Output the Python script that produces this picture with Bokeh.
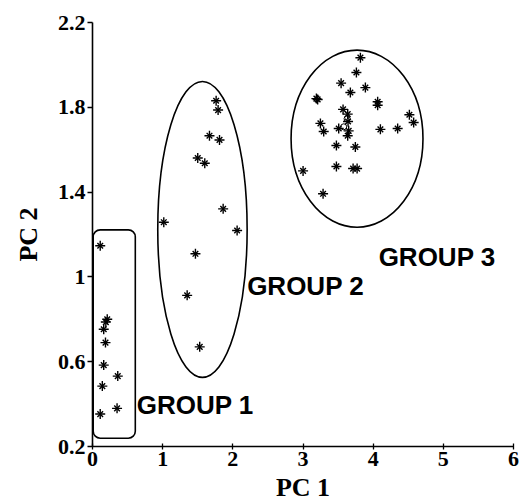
from bokeh.plotting import figure
from bokeh.models import Range1d, FixedTicker, BoxAnnotation, ColumnDataSource
from bokeh.core.properties import value
from bokeh.embed import file_html
from bokeh.resources import INLINE

# ---- data ----
g1_x = [0.11, 0.21, 0.19, 0.16, 0.185, 0.16, 0.36, 0.14, 0.35, 0.11]
g1_y = [1.147, 0.80, 0.787, 0.753, 0.69, 0.584, 0.532, 0.485, 0.38, 0.353]

g2_x = [1.762, 1.79, 1.667, 1.81, 1.50, 1.60, 1.862, 1.016, 2.061, 1.467, 1.349, 1.528]
g2_y = [1.831, 1.787, 1.666, 1.646, 1.561, 1.536, 1.321, 1.258, 1.219, 1.109, 0.913, 0.67]

g3_x = [3.818, 3.761, 3.543, 3.889, 3.675, 3.191, 3.209, 4.064, 4.064, 3.571, 3.637,
        4.516, 4.577, 3.642, 3.248, 3.509, 3.295, 4.103, 4.349, 3.651, 3.637, 3.476,
        3.746, 3.001, 3.476, 3.714, 3.771, 3.286]
g3_y = [2.034, 1.964, 1.914, 1.893, 1.870, 1.841, 1.837, 1.826, 1.810, 1.790, 1.768,
        1.765, 1.728, 1.733, 1.724, 1.700, 1.686, 1.696, 1.700, 1.689, 1.666, 1.620,
        1.613, 1.500, 1.521, 1.511, 1.511, 1.392]

open_x = [3.628, 3.58]
open_y = [1.746, 1.708]

# group outlines
ell_x = [1.567, 3.77]
ell_y = [1.224, 1.652]
ell_w = [1.274, 1.88]
ell_h = [1.396, 0.835]
box1 = dict(left=0.01, right=0.61, bottom=0.239, top=1.222)

lab_x = [0.63, 2.204, 4.078]
lab_y = [0.395, 0.955, 1.096]
lab_t = ["GROUP 1", "GROUP 2", "GROUP 3"]

x_ticks = [0, 1, 2, 3, 4, 5, 6]
y_ticks = [0.2, 0.6, 1.0, 1.4, 1.8, 2.2]
y_tick_labels = ["0.2", "0.6", "1", "1.4", "1.8", "2.2"]

# ---- figure ----
p = figure(width=522, height=504, output_backend="svg", toolbar_location=None,
           x_range=Range1d(0, 6), y_range=Range1d(0.2, 2.2),
           min_border_left=92, min_border_right=9, min_border_top=22, min_border_bottom=58)
p.outline_line_color = None
p.grid.visible = False
p.background_fill_color = "white"
p.border_fill_color = "white"

serif = "Liberation Serif"
for ax in (p.xaxis[0], p.yaxis[0]):
    ax.axis_line_color = "black"
    ax.axis_line_width = 1.6
    ax.major_tick_line_color = "black"
    ax.major_tick_line_width = 1.3
    ax.minor_tick_line_color = None
    ax.major_label_text_font = serif
    ax.major_label_text_font_style = "bold"
    ax.major_label_text_font_size = "22px"
    ax.major_label_text_color = "black"
    ax.axis_label_text_font = serif
    ax.axis_label_text_font_style = "bold"
    ax.axis_label_text_font_size = "26px"
    ax.axis_label_text_color = "black"

p.xaxis.ticker = FixedTicker(ticks=x_ticks)
p.xaxis.major_tick_in = 3
p.xaxis.major_tick_out = 3
p.xaxis.major_label_standoff = 2
p.xaxis.axis_label = "PC 1"
p.xaxis.axis_label_standoff = 4

p.yaxis.ticker = FixedTicker(ticks=y_ticks)
p.yaxis.major_label_overrides = {t: s for t, s in zip(y_ticks, y_tick_labels)}
p.yaxis.major_tick_in = 0
p.yaxis.major_tick_out = 5
p.yaxis.major_label_standoff = 2
p.yaxis.axis_label = "PC 2"
p.yaxis.axis_label_standoff = 12

# outlines
p.ellipse(x=ell_x, y=ell_y, width=ell_w, height=ell_h,
          fill_color=None, line_color="black", line_width=1.6)
p.add_layout(BoxAnnotation(fill_alpha=0, fill_color=None, line_color="black",
                           line_alpha=1.0, line_width=1.6, border_radius=7, **box1))

# points: 8-armed asterisks
all_x = g1_x + g2_x + g3_x
all_y = g1_y + g2_y + g3_y
src = ColumnDataSource(dict(x=all_x, y=all_y))
p.scatter("x", "y", source=src, marker="x", size=8, line_color="black", line_width=1.4)
p.scatter("x", "y", source=src, marker="cross", size=10, line_color="black", line_width=1.4)
p.scatter(open_x, open_y, marker="circle", size=6, fill_color=None,
          line_color="black", line_width=1)

# group labels
p.text(x=lab_x, y=lab_y, text=lab_t, text_font=value("Liberation Sans"),
       text_font_style="bold", text_font_size="26px", text_color="black",
       text_baseline="alphabetic", text_align="left")

open("out.html", "w").write(file_html(p, INLINE))
